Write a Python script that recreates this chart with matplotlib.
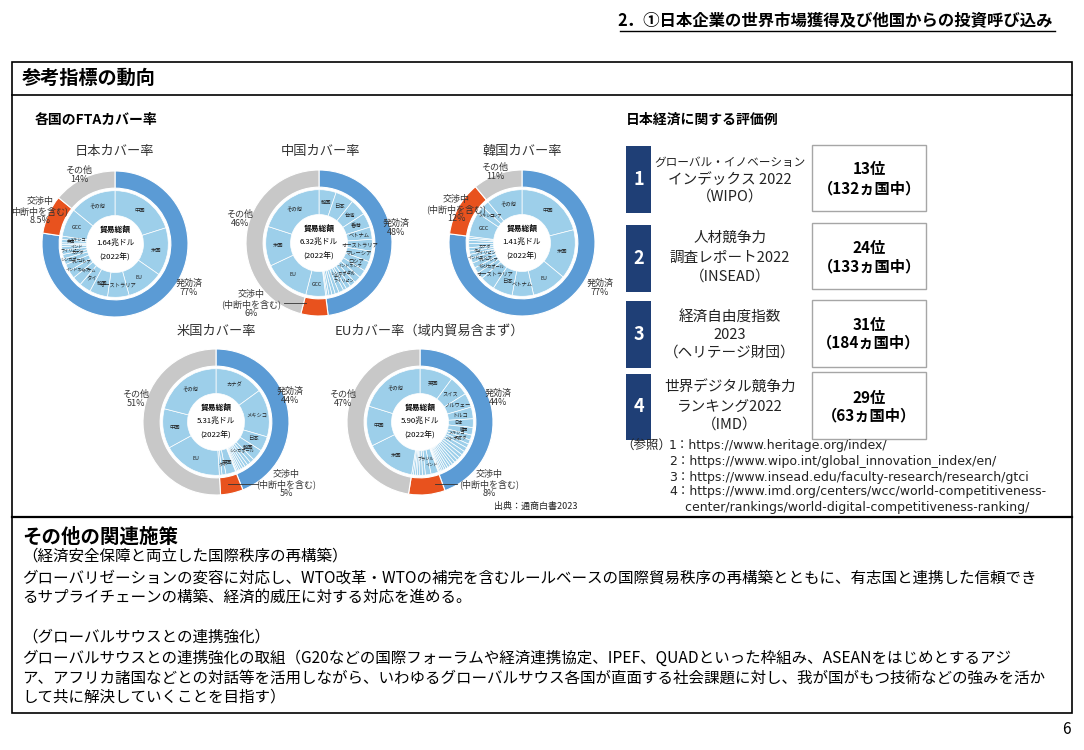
import numpy as np
import matplotlib.pyplot as plt
from matplotlib.patches import Rectangle

plt.rcParams['font.family'] = ['Noto Sans CJK JP', 'DejaVu Sans']

W, H = 1084, 750

# FTA coverage: outer ring = 発効済 / 交渉中 / その他 (%)
ring_colors = ['#5B9BD5', '#E8521E', '#C8C8C8']
inner_color = '#9DCFEA'

jp_outer = [77, 8.5, 14]
jp_names = ['中国', '米国', 'EU', 'オーストラリア', '韓国', 'タイ', 'ベトナム', 'インドネシア',
            'マレーシア', 'シンガポール', 'カナダ', 'フィリピン', 'インド', '', '', '英国', 'メキシコ',
            'GCC', 'その他']
jp_share = [20, 14.5, 11, 6.5, 5.5, 3.5, 2.8, 2.4, 2.2, 1.8, 1.3, 1.3, 1.1, 0.6, 0.5, 1.0, 1.0,
            8.5, 14]

cn_outer = [48, 6, 46]
cn_names = ['韓国', '日本', '台湾', '香港', 'ベトナム', 'オーストラリア', 'マレーシア', 'ロシア',
            'インドネシア', 'タイ', 'シンガポール', 'フィリピン', 'チリ', '', '', '', '', '', '',
            'GCC', 'EU', '米国', 'その他']
cn_share = [5.2, 5.6, 5.0, 4.4, 3.7, 3.6, 3.2, 3.0, 2.4, 2.1, 1.8, 1.4, 1.0, 1.5, 1.2, 1.0, 0.9,
            0.6, 0.4, 6, 14, 12, 20]

kr_outer = [77, 12, 11]
kr_names = ['中国', '米国', 'EU', 'ベトナム', '日本', 'オーストラリア', 'シンガポール', 'インド',
            'マレーシア', 'インドネシア', 'フィリピン', 'タイ', 'カナダ', '', '', '', '',
            'GCC', 'メキシコ', 'ロシア', 'その他']
kr_share = [21, 15, 10.5, 6.5, 6, 4.5, 2.0, 1.8, 1.6, 1.5, 1.2, 1.0, 1.0, 1.2, 1.0, 0.7, 0.5,
            7.5, 2.3, 2.2, 11]

us_outer = [44, 5, 51]
us_names = ['カナダ', 'メキシコ', '日本', '韓国', 'シンガポール', '', '', '', '', '', '', '', '',
            '英国', 'タイ', '', 'EU', '中国', 'その他']
us_share = [15, 14.5, 4.5, 3.5, 1.3, 1.1, 0.9, 0.8, 0.7, 0.6, 0.5, 0.4, 0.2,
            3.0, 1.2, 0.8, 18, 12, 21]

eu_outer = [44, 8, 47]
eu_names = ['英国', 'スイス', 'ノルウェー', 'トルコ', '日本', '韓国', 'メキシコ', 'カナダ', 'ベトナム',
            '', '', '', '', '', '', '', '', '', '', '', '', '', '', '',
            'インド', 'ブラジル', '', '', '', '', '', '', '米国', '中国', 'その他']
eu_share = [10, 6, 4.3, 3.5, 2.6, 2.3, 1.5, 1.3, 1.2,
            1.3, 1.2, 1.1, 1.0, 1.0, 0.9, 0.8, 0.8, 0.7, 0.6, 0.6, 0.5, 0.4, 0.3, 0.1,
            2.2, 1.7, 0.9, 0.8, 0.7, 0.6, 0.6, 0.5, 15, 12, 20]

totals = ['1.64兆ドル', '6.32兆ドル', '1.41兆ドル', '5.31兆ドル', '5.90兆ドル']

# evaluation examples
eval_titles = [['グローバル・イノベーション', 'インデックス 2022', '（WIPO）'],
               ['人材競争力', '調査レポート2022', '（INSEAD）'],
               ['経済自由度指数', '2023', '（ヘリテージ財団）'],
               ['世界デジタル競争力', 'ランキング2022', '（IMD）']]
eval_rank = ['13位', '24位', '31位', '29位']
eval_of = ['（132ヵ国中）', '（133ヵ国中）', '（184ヵ国中）', '（63ヵ国中）']

refs = ['1：https://www.heritage.org/index/',
        '2：https://www.wipo.int/global_innovation_index/en/',
        '3：https://www.insead.edu/faculty-research/research/gtci',
        '4：https://www.imd.org/centers/wcc/world-competitiveness-',
        '    center/rankings/world-digital-competitiveness-ranking/']

body = ['（経済安全保障と両立した国際秩序の再構築）',
        'グローバリゼーションの変容に対応し、WTO改革・WTOの補完を含むルールベースの国際貿易秩序の再構築とともに、有志国と連携した信頼でき',
        'るサプライチェーンの構築、経済的威圧に対する対応を進める。',
        '',
        '（グローバルサウスとの連携強化）',
        'グローバルサウスとの連携強化の取組（G20などの国際フォーラムや経済連携協定、IPEF、QUADといった枠組み、ASEANをはじめとするアジ',
        'ア、アフリカ諸国などとの対話等を活用しながら、いわゆるグローバルサウス各国が直面する社会課題に対し、我が国がもつ技術などの強みを活か',
        'して共に解決していくことを目指す）']

fig = plt.figure(figsize=(W / 100, H / 100), dpi=100)
bg = fig.add_axes([0, 0, 1, 1])
bg.set_xlim(0, W)
bg.set_ylim(H, 0)
bg.axis('off')

# header
bg.text(1053, 20, '2．①日本企業の世界市場獲得及び他国からの投資呼び込み', fontsize=11.8,
        fontweight='bold', ha='right', va='center')
bg.plot([620, 1055], [31, 31], color='black', lw=1)

# frames
bg.add_patch(Rectangle((12, 62), 1060, 651, fill=False, ec='black', lw=1.2))
bg.plot([12, 1072], [95, 95], color='black', lw=1.2)
bg.plot([12, 1072], [517, 517], color='black', lw=1.6)
bg.text(22, 78, '参考指標の動向', fontsize=13.8, fontweight='bold', va='center')
bg.text(35, 120, '各国のFTAカバー率', fontsize=10, fontweight='bold', va='center')
bg.text(626, 120, '日本経済に関する評価例', fontsize=10, fontweight='bold', va='center')


def donut(cx, cy, outer, names, shares, total, r=73):
    ax = fig.add_axes([(cx - r) / W, 1 - (cy + r) / H, 2 * r / W, 2 * r / H])
    ax.pie(outer, radius=1, colors=ring_colors, startangle=90, counterclock=False,
           wedgeprops=dict(width=0.235, edgecolor='white', linewidth=0.8))
    ax.pie(shares, radius=0.73, colors=[inner_color] * len(shares), startangle=90,
           counterclock=False, wedgeprops=dict(width=0.34, edgecolor='white', linewidth=0.5))
    shares = np.array(shares, dtype=float)
    mid = (np.cumsum(shares) - shares / 2) / shares.sum()
    ang = np.deg2rad(90 - mid * 360)
    k = 0
    for n, s, a in zip(names, shares, ang):
        if not n:
            continue
        if s >= 3:
            fs, rr = 3.8, 0.565
        else:
            fs, rr = 3.0, 0.52 + 0.09 * (k % 2)
            k += 1
        ax.text(rr * np.cos(a), rr * np.sin(a), n, fontsize=fs, ha='center',
                va='center', color='#222222')
    ax.text(0, 0.2, '貿易総額', fontsize=5.6, fontweight='bold', ha='center', va='center')
    ax.text(0, 0.02, total, fontsize=5.6, ha='center', va='center')
    ax.text(0, -0.19, '(2022年)', fontsize=5.6, ha='center', va='center')
    ax.set_xlim(-1, 1)
    ax.set_ylim(-1, 1)
    ax.set_aspect('equal')
    ax.axis('off')


donut(115, 244, jp_outer, jp_names, jp_share, totals[0])
donut(319, 243, cn_outer, cn_names, cn_share, totals[1])
donut(522, 243, kr_outer, kr_names, kr_share, totals[2])
donut(216, 422, us_outer, us_names, us_share, totals[3])
donut(420, 422, eu_outer, eu_names, eu_share, totals[4])

# overlay for the ring labels (drawn above the donuts)
top = fig.add_axes([0, 0, 1, 1])
top.set_xlim(0, W)
top.set_ylim(H, 0)
top.axis('off')

tc = '#333333'
lab = dict(fontsize=6.5, ha='center', va='center', color=tc, linespacing=1.05)
ttl = dict(fontsize=9.5, va='center', color=tc)
top.text(114, 152, '日本カバー率', ha='center', **ttl)
top.text(320, 152, '中国カバー率', ha='center', **ttl)
top.text(522, 152, '韓国カバー率', ha='center', **ttl)
top.text(216, 331, '米国カバー率', ha='center', **ttl)
top.text(335, 331, 'EUカバー率（域内貿易含まず）', ha='left', **ttl)

top.text(79, 175, 'その他\n14%', **lab)
top.text(40, 211, '交渉中\n中断中を含む)\n8.5%', **lab)
top.text(189, 288, '発効済\n77%', **lab)

top.text(240, 219, 'その他\n46%', **lab)
top.text(396, 228, '発効済\n48%', **lab)
top.text(251, 304, '交渉中\n(中断中を含む)\n6%', **lab)
top.plot([284, 306], [303, 303], color=tc, lw=0.6)

top.text(495, 172, 'その他\n11%', **lab)
top.text(456, 209, '交渉中\n(中断中を含む)\n12%', **lab)
top.text(600, 288, '発効済\n77%', **lab)

top.text(136, 399, 'その他\n51%', **lab)
top.text(290, 396, '発効済\n44%', **lab)
top.text(286, 484, '交渉中\n(中断中を含む)\n5%', **lab)
top.plot([228, 258], [484, 484], color=tc, lw=0.6)

top.text(489, 484, '交渉中\n(中断中を含む)\n8%', **lab)
top.text(343, 399, 'その他\n47%', **lab)
top.text(498, 398, '発効済\n44%', **lab)
top.plot([435, 457], [484, 484], color=tc, lw=0.6)
top.text(536, 506, '出典：通商白書2023', fontsize=6.5, ha='center', va='center',
         color='#222222', bbox=dict(fc='white', ec='none', pad=0.5))

# evaluation panel
num_y = [(146, 213), (225, 292), (301, 368), (374, 440)]
box_y = [(145, 211), (223, 289), (300, 367), (372, 439)]
line_y = [[162, 180, 197], [238, 258, 277], [317, 335, 353], [388, 407, 425]]
rank_y = [(169, 188), (248, 266), (325, 342), (398, 415)]
for i in range(4):
    y0, y1 = num_y[i]
    bg.add_patch(Rectangle((626, y0), 25, y1 - y0, color='#1F3F76', lw=0))
    bg.text(638.5, (y0 + y1) / 2, str(i + 1), fontsize=13, fontweight='bold', color='white',
            ha='center', va='center')
    b0, b1 = box_y[i]
    bg.add_patch(Rectangle((812, b0), 114, b1 - b0, fill=False, ec='#A6A6A6', lw=1))
    for j, t in enumerate(eval_titles[i]):
        fs = 8.4 if len(t) > 12 else 10.5
        bg.text(730, line_y[i][j], t, fontsize=fs, ha='center', va='center', color='#222222')
    bg.text(869, rank_y[i][0], eval_rank[i], fontsize=11, fontweight='bold', ha='center',
            va='center')
    bg.text(869, rank_y[i][1], eval_of[i], fontsize=11, fontweight='bold', ha='center',
            va='center')

bg.text(621, 446, '（参照）', fontsize=9, va='center', color='#222222')
ref_y = [446, 462, 477, 492, 507]
for t, y in zip(refs, ref_y):
    bg.text(669, y, t, fontsize=9, va='center', color='#222222',
            family=['DejaVu Sans', 'Noto Sans CJK JP'])

# other measures
bg.text(22, 537, 'その他の関連施策', fontsize=14, fontweight='bold', va='center')
body_y = [556, 578, 598, 617, 637, 658, 678, 697]
for t, y in zip(body, body_y):
    bg.text(22, y, t, fontsize=11.2, va='center')

bg.text(1066, 729, '6', fontsize=11, ha='center', va='center')

fig.savefig('out.png', dpi=100)
